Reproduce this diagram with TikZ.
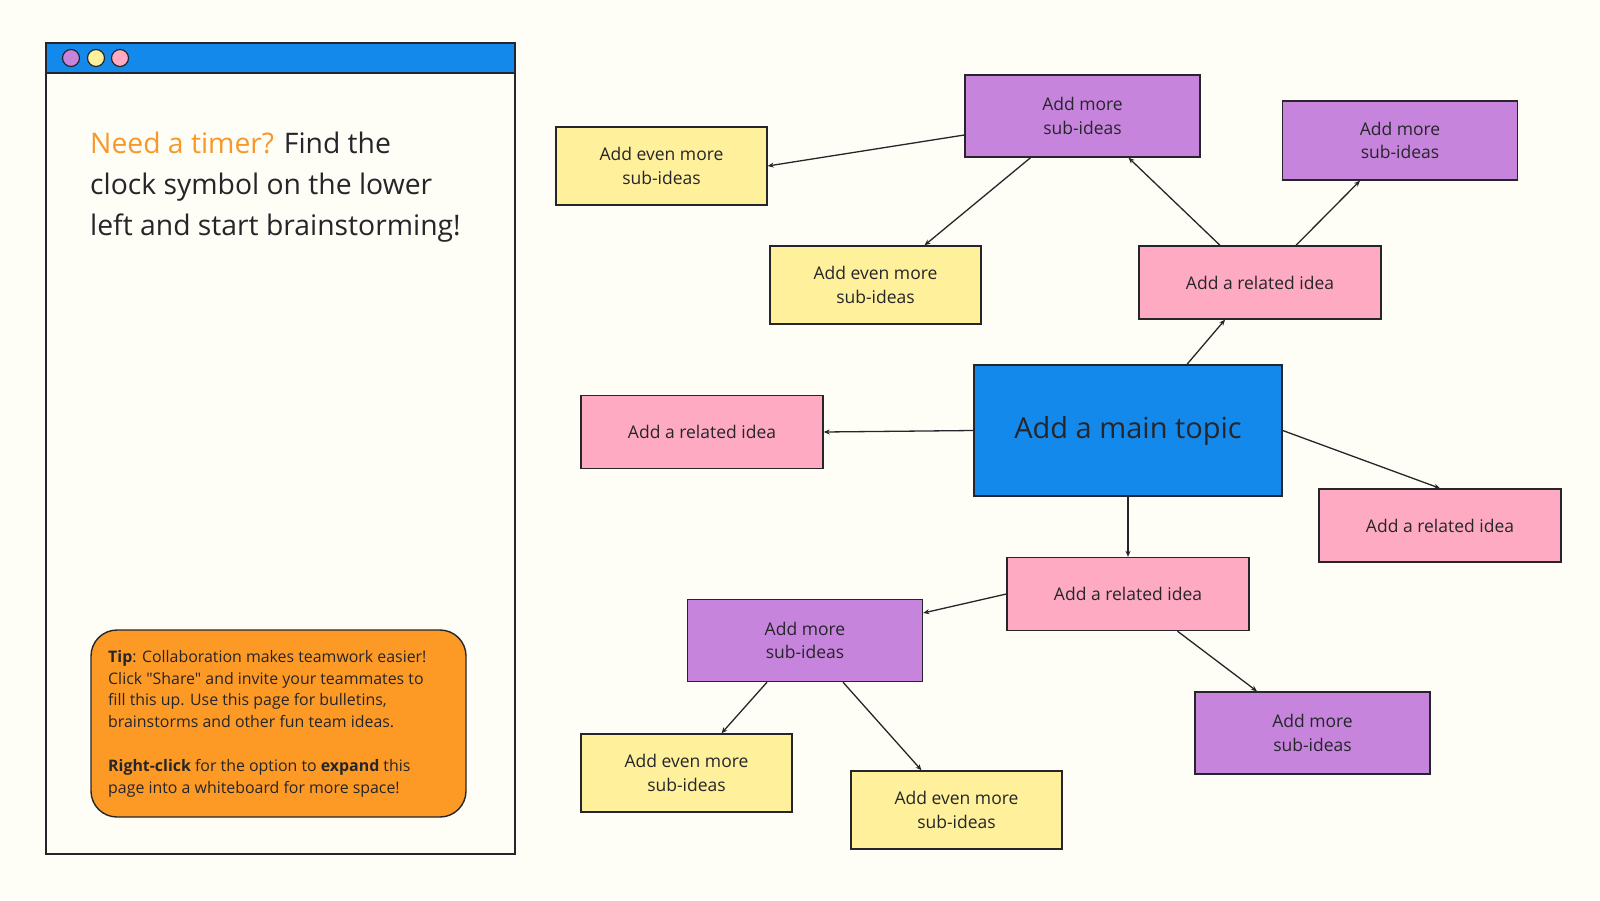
\documentclass[tikz,border=0pt]{standalone}
\usepackage{fontspec}
\setmainfont{Open Sans}[Ligatures=TeXOff]
\usetikzlibrary{positioning,arrows.meta}
\definecolor{paper}{RGB}{254,253,246}
\definecolor{ink}{RGB}{38,38,42}
\definecolor{topicblue}{RGB}{20,137,236}
\definecolor{relpink}{RGB}{255,170,195}
\definecolor{morepurple}{RGB}{199,132,221}
\definecolor{evenyellow}{RGB}{255,240,155}
\definecolor{tiporange}{RGB}{253,154,38}
\definecolor{headorange}{RGB}{247,152,41}

\begin{document}
\begin{tikzpicture}[x=1pt,y=-1pt,>={Stealth[length=6pt,width=5pt]},
  card/.style={draw=ink,line width=1.4pt,inner sep=0pt,align=center,text=ink,
    font=\fontsize{17.5}{23.5}\selectfont},
  topicbox/.style={card,fill=topicblue,minimum width=308pt,minimum height=131pt,
    font=\fontsize{29}{34}\selectfont},
  relbox/.style={card,fill=relpink,minimum width=242pt,minimum height=73pt},
  morebox/.style={card,fill=morepurple,minimum width=235pt,minimum height=82pt},
  evenbox/.style={card,fill=evenyellow,minimum width=211pt,minimum height=78pt},
  link/.style={->,draw=ink,line width=1.3pt}]
\useasboundingbox[fill=paper] (0,0) rectangle (1600,900);

% window on the left
\draw[ink,line width=1.6pt,fill=paper] (46,43) rectangle (515,854);
\draw[ink,line width=1.6pt,fill=topicblue] (46,43) rectangle (515,73);
\foreach \x/\c in {71/morepurple,96/evenyellow,120/relpink}
  \draw[ink,line width=1.2pt,fill=\c] (\x,58) circle (8.5);
\node[anchor=base west,align=left,text=ink,inner sep=0pt,
  font=\fontsize{28.3}{41}\selectfont] (head) at (90,235)
  {\textcolor{headorange}{Need a timer?} Find the\\clock symbol on the lower\\left and start brainstorming!};
\draw[ink,line width=1.4pt,fill=tiporange,rounded corners=26pt] (91,630) rectangle (466,817);
\node[anchor=base west,align=left,text=ink,inner sep=0pt,
  font=\fontsize{15.9}{21.8}\selectfont] (tip) at (108,793)
  {\textbf{Tip}: Collaboration makes teamwork easier!\\
   Click "Share" and invite your teammates to\\
   fill this up. Use this page for bulletins,\\
   brainstorms and other fun team ideas.\\[21.8pt]
   \textbf{Right-click} for the option to \textbf{expand} this\\
   page into a whiteboard for more space!};

% mind map
\node[topicbox] (main) at (1128,430.5) {Add a main topic};
\node[relbox] (relA) at (1260,282.5) {Add a related idea};
\node[relbox] (relB) at (702,432) {Add a related idea};
\node[relbox] (relC) at (1440,525.5) {Add a related idea};
\node[relbox] (relD) at (1128,594) {Add a related idea};
\node[morebox] (moreA) at (1082.5,116) {Add more\\sub-ideas};
\node[morebox,minimum height=79pt] (moreB) at (1400,140.5) {Add more\\sub-ideas};
\node[morebox] (moreC) at (805,640.5) {Add more\\sub-ideas};
\node[morebox] (moreD) at (1312.5,733) {Add more\\sub-ideas};
\node[evenbox] (evenA) at (661.5,166) {Add even more\\sub-ideas};
\node[evenbox] (evenB) at (875.5,285) {Add even more\\sub-ideas};
\node[evenbox] (evenC) at (686.5,773) {Add even more\\sub-ideas};
\node[evenbox] (evenD) at (956.5,810) {Add even more\\sub-ideas};

\draw[link] ([xshift=59pt]main.north) -- ([xshift=-35pt]relA.south);
\draw[link] ([xshift=-40pt]relA.north) -- ([xshift=46pt]moreA.south);
\draw[link] ([xshift=36pt]relA.north) -- ([xshift=-40pt]moreB.south);
\draw[link] ([yshift=-19pt]moreA.west) -- (evenA.east);
\draw[link] ([xshift=-52pt]moreA.south) -- ([xshift=49pt]evenB.north);
\draw[link] (main.west) -- (relB.east);
\draw[link] (main.east) -- (relC.north);
\draw[link] (main.south) -- (relD.north);
\draw[link] (relD.west) -- ([yshift=27.5pt]moreC.east);
\draw[link] ([xshift=49.5pt]relD.south) -- ([xshift=-55.5pt]moreD.north);
\draw[link] ([xshift=-38pt]moreC.south) -- ([xshift=35pt]evenC.north);
\draw[link] ([xshift=38pt]moreC.south) -- ([xshift=-35pt]evenD.north);
\end{tikzpicture}
\end{document}
